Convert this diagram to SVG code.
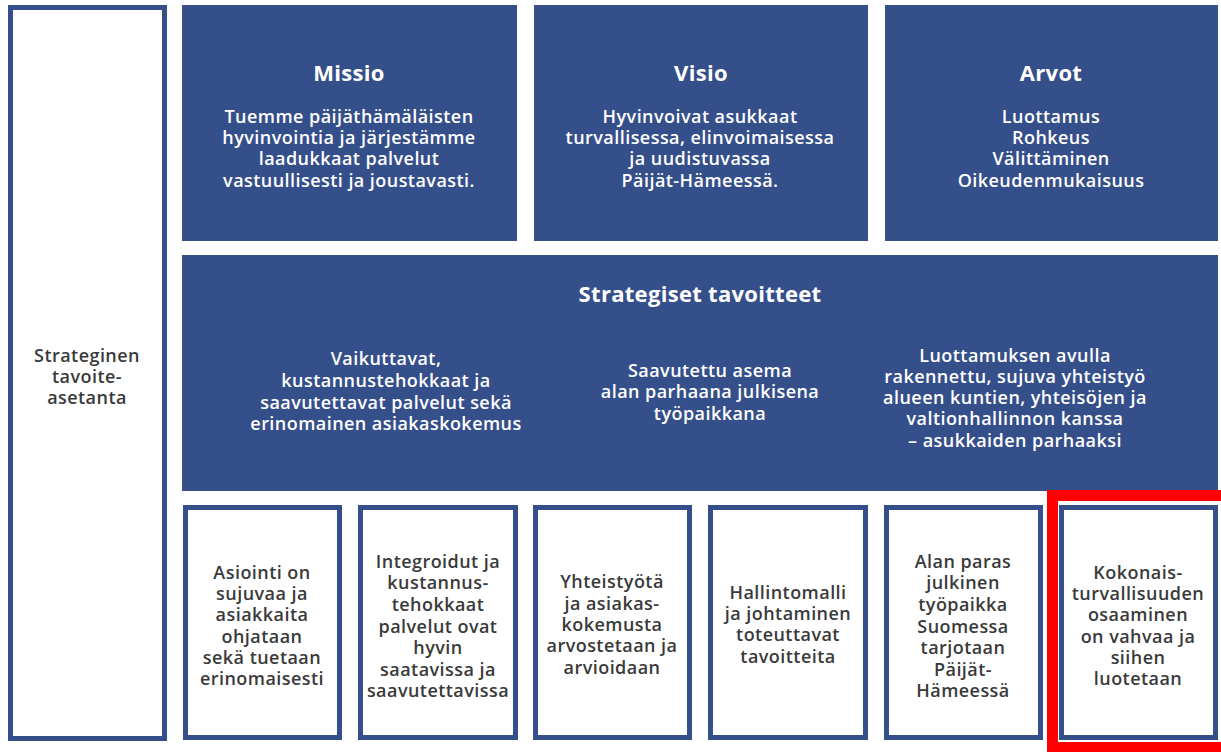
<svg xmlns="http://www.w3.org/2000/svg" width="1221" height="752" viewBox="0 0 1221 752">
<style>
.fill{fill:#354f8b}
.box{fill:#fff;stroke:#354f8b;stroke-width:5}
.t{font-family:"Open Sans","Noto Sans",sans-serif;font-size:18px;font-weight:600;letter-spacing:0.45px;text-anchor:middle}
.w{fill:#ffffff}
.d{fill:#3a3a3a}
.h{font-weight:bold;font-size:22px;letter-spacing:0.3px}
</style>
<rect width="1221" height="752" fill="#fff"/>
<g id="left">
<rect class="box" x="10.5" y="7.5" width="154" height="731"/>
<text class="t d"><tspan x="87" y="362">Strateginen</tspan><tspan x="87" y="383">tavoite-</tspan><tspan x="87" y="404">asetanta</tspan></text>
</g>
<g id="missio">
<rect class="fill" x="182" y="5" width="335" height="236"/>
<text class="t w h" x="349" y="81">Missio</text>
<text class="t w"><tspan x="349" y="123">Tuemme päijäthämäläisten</tspan><tspan x="349" y="144">hyvinvointia ja järjestämme</tspan><tspan x="349" y="165">laadukkaat palvelut</tspan><tspan x="349" y="187">vastuullisesti ja joustavasti.</tspan></text>
</g>
<g id="visio">
<rect class="fill" x="534" y="5" width="334" height="236"/>
<text class="t w h" x="701" y="81">Visio</text>
<text class="t w"><tspan x="700" y="123">Hyvinvoivat asukkaat</tspan><tspan x="700" y="144">turvallisessa, elinvoimaisessa</tspan><tspan x="700" y="165">ja uudistuvassa</tspan><tspan x="700" y="187">Päijät-Hämeessä.</tspan></text>
</g>
<g id="arvot">
<rect class="fill" x="885" y="5" width="333" height="236"/>
<text class="t w h" x="1051" y="81">Arvot</text>
<text class="t w"><tspan x="1051" y="123">Luottamus</tspan><tspan x="1051" y="144">Rohkeus</tspan><tspan x="1051" y="165">Välittäminen</tspan><tspan x="1051" y="187">Oikeudenmukaisuus</tspan></text>
</g>
<g id="strategiset">
<rect class="fill" x="182" y="255" width="1036" height="236"/>
<text class="t w h" x="700" y="302">Strategiset tavoitteet</text>
<text class="t w"><tspan x="386" y="365">Vaikuttavat,</tspan><tspan x="386" y="387">kustannustehokkaat ja</tspan><tspan x="386" y="409">saavutettavat palvelut sekä</tspan><tspan x="386" y="430">erinomainen asiakaskokemus</tspan></text>
<text class="t w"><tspan x="710" y="377">Saavutettu asema</tspan><tspan x="710" y="398">alan parhaana julkisena</tspan><tspan x="710" y="420">työpaikkana</tspan></text>
<text class="t w"><tspan x="1015" y="362">Luottamuksen avulla</tspan><tspan x="1015" y="383">rakennettu, sujuva yhteistyö</tspan><tspan x="1015" y="404">alueen kuntien, yhteisöjen ja</tspan><tspan x="1015" y="425">valtionhallinnon kanssa</tspan><tspan x="1015" y="447">– asukkaiden parhaaksi</tspan></text>
</g>
<g id="b1">
<rect class="box" x="185.5" y="507.5" width="154" height="230"/>
<text class="t d"><tspan x="262" y="579">Asiointi on</tspan><tspan x="262" y="600">sujuvaa ja</tspan><tspan x="262" y="621">asiakkaita</tspan><tspan x="262" y="643">ohjataan</tspan><tspan x="262" y="664">sekä tuetaan</tspan><tspan x="262" y="685">erinomaisesti</tspan></text>
</g>
<g id="b2">
<rect class="box" x="360.5" y="507.5" width="155" height="230"/>
<text class="t d"><tspan x="438" y="568">Integroidut ja</tspan><tspan x="438" y="589">kustannus-</tspan><tspan x="438" y="611">tehokkaat</tspan><tspan x="438" y="633">palvelut ovat</tspan><tspan x="438" y="654">hyvin</tspan><tspan x="438" y="676">saatavissa ja</tspan><tspan x="438" y="697">saavutettavissa</tspan></text>
</g>
<g id="b3">
<rect class="box" x="535.5" y="507.5" width="154" height="230"/>
<text class="t d"><tspan x="612" y="588">Yhteistyötä</tspan><tspan x="612" y="610">ja asiakas-</tspan><tspan x="612" y="631">kokemusta</tspan><tspan x="612" y="652">arvostetaan ja</tspan><tspan x="612" y="674">arvioidaan</tspan></text>
</g>
<g id="b4">
<rect class="box" x="710.5" y="507.5" width="155" height="230"/>
<text class="t d"><tspan x="788" y="599">Hallintomalli</tspan><tspan x="788" y="620">ja johtaminen</tspan><tspan x="788" y="641">toteuttavat</tspan><tspan x="788" y="663">tavoitteita</tspan></text>
</g>
<g id="b5">
<rect class="box" x="886.5" y="507.5" width="154" height="230"/>
<text class="t d"><tspan x="963" y="568">Alan paras</tspan><tspan x="963" y="589">julkinen</tspan><tspan x="963" y="611">työpaikka</tspan><tspan x="963" y="633">Suomessa</tspan><tspan x="963" y="654">tarjotaan</tspan><tspan x="963" y="676">Päijät-</tspan><tspan x="963" y="697">Hämeessä</tspan></text>
</g>
<g id="b6">
<rect class="box" x="1061.5" y="507.5" width="154" height="230"/>
<text class="t d"><tspan x="1138" y="579">Kokonais-</tspan><tspan x="1138" y="600">turvallisuuden</tspan><tspan x="1138" y="621">osaaminen</tspan><tspan x="1138" y="643">on vahvaa ja</tspan><tspan x="1138" y="664">siihen</tspan><tspan x="1138" y="685">luotetaan</tspan></text>
</g>
<g id="highlight">
<rect x="1052.5" y="495.5" width="175" height="252" fill="none" stroke="#ff0000" stroke-width="11"/>
</g>
<g id="connectors"></g>
</svg>
